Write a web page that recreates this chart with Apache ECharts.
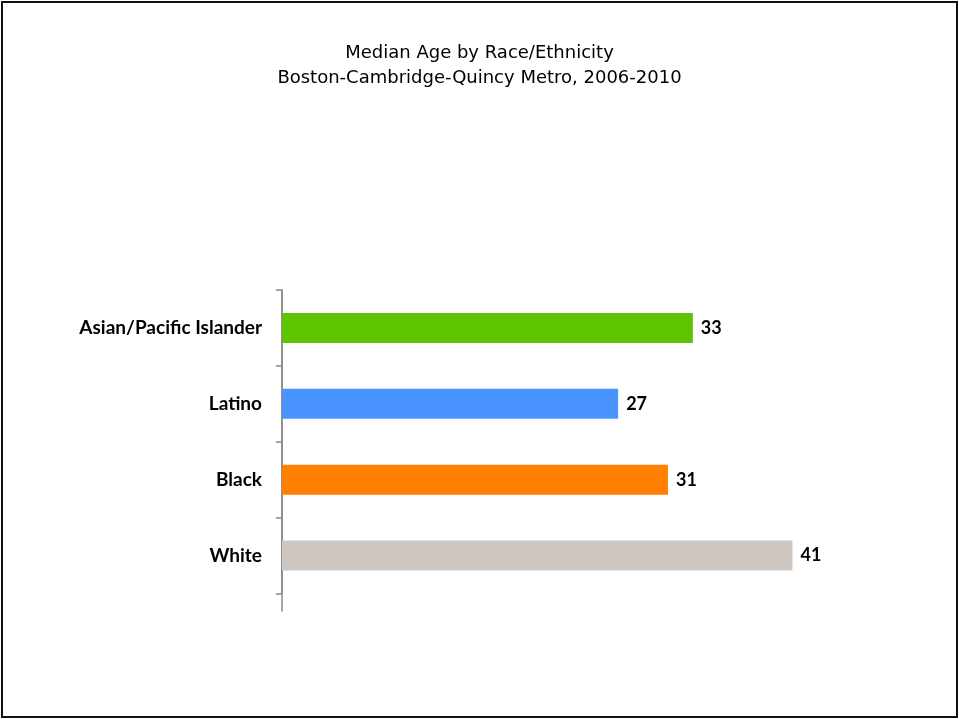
<!DOCTYPE html>
<html>
<head>
<meta charset="utf-8">
<script src="https://cdn.jsdelivr.net/npm/echarts@6/dist/echarts.min.js"></script>
<style>
html,body{margin:0;padding:0;background:#fff;}
#frame{position:absolute;left:1px;top:1px;width:957px;height:717px;box-sizing:border-box;border:2px solid #111;}
#chart{position:absolute;left:0;top:0;width:959px;height:719px;}
</style>
</head>
<body>
<div id="frame"></div>
<div id="chart"></div>
<script>
const categories = ["White", "Black", "Latino", "Asian/Pacific Islander"];
const values = [41, 31, 27, 33];
const colors = ["#CEC7C1", "#FF7F00", "#4A94FF", "#5EC300"];
const titleLines = ["Median Age by Race/Ethnicity", "Boston-Cambridge-Quincy Metro, 2006-2010"];

const chart = echarts.init(document.getElementById('chart'), null, {renderer: 'canvas'});
chart.setOption({
  backgroundColor: 'transparent',
  animation: false,
  title: {
    text: titleLines.join('\n'),
    left: 'center',
    top: 36,
    textStyle: {fontFamily: 'DejaVu Sans', fontWeight: 'normal', fontSize: 18, color: '#000', lineHeight: 25}
  },
  grid: [
    {left: 282, top: 290, height: 303.5, width: 622.5},
    {left: 282, top: 290, height: 321, width: 622.5}
  ],
  xAxis: [
    {gridIndex: 0, type: 'value', min: 0, max: 50, show: false},
    {gridIndex: 1, type: 'value', min: 0, max: 50, show: false}
  ],
  yAxis: [
    {
      gridIndex: 0, type: 'category', data: categories,
      axisLine: {show: true, lineStyle: {color: '#888', width: 1.5}},
      axisTick: {show: true, length: 6, lineStyle: {color: '#888', width: 1.5}},
      axisLabel: {margin: 20, fontFamily: 'Lato', fontWeight: 'bold', fontSize: 19, color: '#000'}
    },
    {
      gridIndex: 1, type: 'value', min: 0, max: 1,
      axisLine: {show: true, lineStyle: {color: '#888', width: 1.5}},
      axisTick: {show: false}, axisLabel: {show: false}, splitLine: {show: false}
    }
  ],
  series: [{
    type: 'bar',
    xAxisIndex: 0, yAxisIndex: 0,
    data: values.map((v, i) => ({value: v, itemStyle: {color: colors[i]}})),
    barWidth: 30,
    label: {show: true, position: 'right', distance: 8, fontFamily: 'Lato', fontWeight: 'bold', fontSize: 18, color: '#000'}
  }]
});
</script>
</body>
</html>
